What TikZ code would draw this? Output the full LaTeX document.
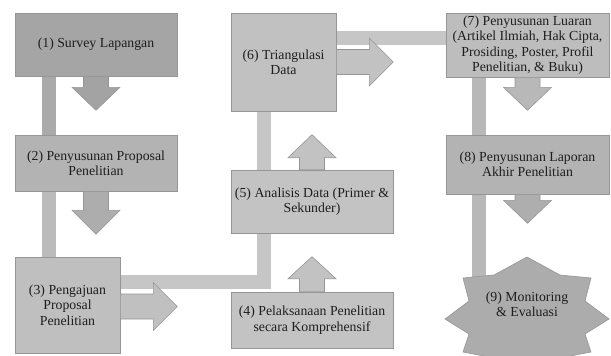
\documentclass[tikz,border=0pt]{standalone}
\usepackage{fontspec}
\setmainfont{Liberation Serif}
\usetikzlibrary{calc,backgrounds}
\definecolor{bordergray}{HTML}{969696}
\definecolor{txt}{HTML}{1E1E1E}
\definecolor{fa}{HTML}{A5A5A5}
\definecolor{fb}{HTML}{B3B3B3}
\definecolor{fc}{HTML}{BFBFBF}
\definecolor{fd}{HTML}{C3C3C3}
\definecolor{fe}{HTML}{C3C3C3}
\definecolor{ff}{HTML}{C1C1C1}
\definecolor{fg}{HTML}{BDBDBD}
\definecolor{fh}{HTML}{B3B3B3}
\definecolor{fi}{HTML}{ACACAC}
\definecolor{aa}{HTML}{A3A3A3}
\definecolor{ab}{HTML}{ADADAD}
\definecolor{ac}{HTML}{C0C0C0}
\definecolor{ad}{HTML}{C2C2C2}
\definecolor{ae}{HTML}{C2C2C2}
\definecolor{af}{HTML}{C2C2C2}
\definecolor{ag}{HTML}{B8B8B8}
\definecolor{ah}{HTML}{AEAEAE}
\definecolor{ka}{HTML}{AAAAAA}
\definecolor{kb}{HTML}{BBBBBB}
\definecolor{kc}{HTML}{C6C6C6}
\definecolor{kd}{HTML}{B8B8B8}
\newcommand{\arrdown}[4]{%
  \filldraw[blockarrow,fill=#4] ($(#1.south)+(-12.5,0)$) -- ++(0,#2) -- ++(-11.5,0)
   -- ($(#1.south)+(0,#3)$) -- ($(#1.south)+(24,#2)$) -- ++(-11.5,0)
   -- ($(#1.south)+(12.5,0)$) -- cycle;}
\newcommand{\arrup}[4]{%
  \filldraw[blockarrow,fill=#4] ($(#1.north)+(-12.5,0)$) -- ++(0,-#2) -- ++(-11.5,0)
   -- ($(#1.north)+(0,-#3)$) -- ($(#1.north)+(24,-#2)$) -- ++(0,-11.5)
   -- cycle;}
\renewcommand{\arrup}[4]{%
  \filldraw[blockarrow,fill=#4] ($(#1.north)+(-12.5,0)$) -- ++(0,-#2) -- ++(-11.5,0)
   -- ($(#1.north)+(0,-#3)$) -- ($(#1.north)+(24,-#2)$) -- ++(-11.5,0)
   -- ($(#1.north)+(12.5,0)$) -- cycle;}
\newcommand{\arrright}[5]{%
  \filldraw[blockarrow,fill=#4] ($(#1.east)+(0,#5-12.5)$) -- ++(#2,0) -- ++(0,-11.5)
   -- ($(#1.east)+(#3,#5)$) -- ($(#1.east)+(#2,#5+24)$) -- ++(0,-11.5)
   -- ($(#1.east)+(0,#5+12.5)$) -- cycle;}
\begin{document}
\begin{tikzpicture}[x=1pt,y=-1pt,
  box/.style={draw=bordergray,line width=0.6pt,inner sep=1pt,align=center,
    text=txt,font=\fontsize{13.8}{15.4}\selectfont},
  lbl/.style={inner sep=1pt,align=center,text=txt,font=\fontsize{13.8}{15.4}\selectfont},
  blockarrow/.style={draw=bordergray,line width=0.6pt,line join=miter},
  bar/.style={line width=14pt,line cap=butt,line join=miter}]
\useasboundingbox (0,0) rectangle (611,356);
\clip (0,0) rectangle (611,356);
% boxes
\node[box,fill=fa,minimum width=162pt,minimum height=63pt] (b1) at (96,44.5) {(1) Survey Lapangan};
\node[box,fill=fb,minimum width=162pt,minimum height=56pt] (b2) at (96,163) {(2) Penyusunan Proposal\\Penelitian};
\node[box,fill=fc,minimum width=105pt,minimum height=96pt] (b3) at (67.5,305) {(3) Pengajuan\\Proposal\\Penelitian};
\node[box,fill=fd,minimum width=162pt,minimum height=56pt] (b4) at (312,320) {(4) Pelaksanaan Penelitian\\secara Komprehensif};
\node[box,fill=fe,minimum width=162pt,minimum height=63pt] (b5) at (312,201.5) {(5) Analisis Data (Primer \&\\Sekunder)};
\node[box,fill=ff,minimum width=105pt,minimum height=98pt] (b6) at (283.5,62) {(6) Triangulasi\\Data};
\node[box,fill=fg,minimum width=163pt,minimum height=64pt] (b7) at (527.5,45) {(7) Penyusunan Luaran\\(Artikel Ilmiah, Hak Cipta,\\Prosiding, Poster, Profil\\Penelitian, \& Buku)};
\node[box,fill=fh,minimum width=163pt,minimum height=59pt] (b8) at (527.5,164.5) {(8) Penyusunan Laporan\\Akhir Penelitian};
% star
\coordinate (sc) at (527,315);
\filldraw[blockarrow,fill=fi] ($(sc)+(0,-58)$) -- ($(sc)+(33,-40)$) -- ($(sc)+(64,-37)$)
  -- ($(sc)+(58,-14)$) -- ($(sc)+(82,4)$) -- ($(sc)+(58,19)$) -- ($(sc)+(64,37)$)
  -- ($(sc)+(33,43)$) -- ($(sc)+(0,62)$) -- ($(sc)+(-33,43)$) -- ($(sc)+(-64,37)$)
  -- ($(sc)+(-58,19)$) -- ($(sc)+(-82,4)$) -- ($(sc)+(-58,-14)$) -- ($(sc)+(-64,-37)$)
  -- ($(sc)+(-33,-40)$) -- cycle;
\node[lbl] (s9) at (527,304) {(9) Monitoring\\\& Evaluasi};
% connector bars
\coordinate (c1) at (49,0);
\coordinate (c3) at (479,0);
\coordinate (v1) at (264,0);
\coordinate (h1) at (0,282);
\coordinate (h2) at (0,38);
\begin{pgfonlayer}{background}
\fill[white] (0,0) rectangle (611,356);
\draw[bar,draw=ka] (c1 |- b1.center) -- (c1 |- b2.center);
\draw[bar,draw=kb] (c1 |- b2.south) -- (c1 |- b3.center);
\draw[bar,draw=kc] (b3.center |- h1) -- (v1 |- h1) -- (v1 |- h2) -- (b7.center |- h2);
\draw[bar,draw=kd] (c3 |- b7.center) -- (c3 |- s9);
\end{pgfonlayer}
% block arrows
\arrdown{b1}{11}{34}{aa}
\arrdown{b2}{19}{43}{ab}
\arrdown{b7}{10}{33}{ag}
\arrdown{b8}{6}{29}{ah}
\arrup{b5}{12}{35}{ae}
\arrup{b4}{13}{35}{ad}
\arrright{b3}{33}{57}{ac}{1.5}
\arrright{b6}{33}{57}{af}{0}
\end{tikzpicture}
\end{document}
